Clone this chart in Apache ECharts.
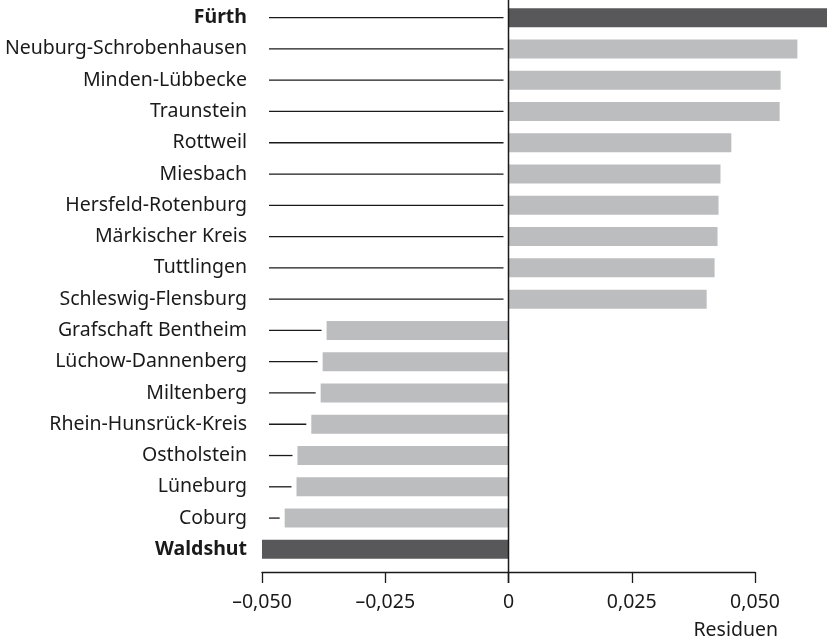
<!DOCTYPE html>
<html>
<head>
<meta charset="utf-8">
<script src="https://cdn.jsdelivr.net/npm/echarts@6/dist/echarts.min.js"></script>
<style>
    html, body { margin: 0; padding: 0; background: #fff; }
    #chart { width: 827px; height: 641px; }
</style>
</head>
<body>
<div id="chart"></div>
<script>
// Landkreise, von oben nach unten
const districts = [
    'Fürth', 'Neuburg-Schrobenhausen', 'Minden-Lübbecke', 'Traunstein', 'Rottweil',
    'Miesbach', 'Hersfeld-Rotenburg', 'Märkischer Kreis', 'Tuttlingen', 'Schleswig-Flensburg',
    'Grafschaft Bentheim', 'Lüchow-Dannenberg', 'Miltenberg', 'Rhein-Hunsrück-Kreis',
    'Ostholstein', 'Lüneburg', 'Coburg', 'Waldshut'
];

// Residuen (Fürth läuft über den Rand hinaus)
const residuals = [
    0.068, 0.0586, 0.0552, 0.0550, 0.0452,
    0.0430, 0.0426, 0.0424, 0.0418, 0.0402,
    -0.0369, -0.0377, -0.0381, -0.0400,
    -0.0428, -0.0430, -0.0454, -0.0500
];

// hervorgehobene Extremwerte
const highlighted = ['Fürth', 'Waldshut'];

const xTicks = { min: -0.05, max: 0.05, interval: 0.025 };

const FONT = 'Noto Sans';
const FONT_SIZE = 19.5;
const TEXT_COLOR = '#1a1a1a';
const DARK = '#58585a';
const LIGHT = '#bcbdbf';

// Zahl im deutschen Format, Minus als Halbgeviertstrich
function formatTick(value) {
    if (Math.abs(value) < 1e-9) {
        return '0';
    }
    return value.toFixed(3).replace('.', ',').replace('-', '\u2013');
}

const chart = echarts.init(document.getElementById('chart'), null, { renderer: 'canvas' });

const option = {
    animation: false,
    textStyle: { fontFamily: FONT, color: TEXT_COLOR },
    title: {
        text: 'Residuen',
        right: 49,
        top: 620,
        padding: 0,
        textStyle: { fontFamily: FONT, fontSize: FONT_SIZE, fontWeight: 'normal', color: TEXT_COLOR }
    },
    grid: {
        left: 262,
        right: 72,
        top: 2,
        bottom: 76
    },
    xAxis: {
        type: 'value',
        min: xTicks.min,
        max: xTicks.max,
        interval: xTicks.interval,
        offset: 7,
        axisLine: { show: true, onZero: false, lineStyle: { color: TEXT_COLOR, width: 1.3 } },
        axisTick: { show: true, length: 11, lineStyle: { color: TEXT_COLOR, width: 1.3 } },
        splitLine: { show: false },
        axisLabel: {
            margin: 20,
            fontSize: FONT_SIZE,
            fontFamily: FONT,
            color: TEXT_COLOR,
            formatter: formatTick
        }
    },
    yAxis: {
        type: 'category',
        data: districts,
        inverse: true,
        axisLine: { show: false, onZero: false },
        axisTick: { show: false },
        splitLine: { show: false },
        axisLabel: {
            margin: 15,
            fontSize: FONT_SIZE,
            fontFamily: FONT,
            color: TEXT_COLOR,
            formatter: function (name) {
                return highlighted.indexOf(name) >= 0 ? '{b|' + name + '}' : name;
            },
            rich: {
                b: { fontWeight: 'bold', fontSize: FONT_SIZE, fontFamily: FONT, color: TEXT_COLOR }
            }
        }
    },
    series: [
        {
            type: 'bar',
            barWidth: 19,
            clip: false,
            z: 2,
            data: residuals.map(function (v, i) {
                return {
                    value: v,
                    itemStyle: { color: highlighted.indexOf(districts[i]) >= 0 ? DARK : LIGHT }
                };
            })
        },
        {
            // Führungslinien vom Namen bis zum Balken
            type: 'custom',
            z: 3,
            encode: { x: 0, y: 1 },
            data: districts.map(function (d, i) {
                return [residuals[i], i];
            }),
            renderItem: function (params, api) {
                let v = api.value(0);
                let end = api.coord([Math.min(v, 0), api.value(1)]);
                let x0 = params.coordSys.x + 7;
                let x1 = end[0] - 5;
                if (x1 <= x0) {
                    return null;
                }
                return {
                    type: 'line',
                    shape: { x1: x0, y1: end[1], x2: x1, y2: end[1] },
                    style: { stroke: TEXT_COLOR, lineWidth: 1.3 }
                };
            }
        }
    ]
};

chart.setOption(option);

// Nulllinie über die ganze Höhe bis unter die Achse
const zeroX = chart.convertToPixel({ xAxisIndex: 0 }, 0);
const axisY = chart.convertToPixel({ yAxisIndex: 0 }, districts.length - 1) + 15.6 + 7;
chart.setOption({
    graphic: [{
        type: 'line',
        z: 10,
        shape: { x1: zeroX, y1: 0, x2: zeroX, y2: axisY + 11 },
        style: { stroke: TEXT_COLOR, lineWidth: 1.5 }
    }]
});
</script>
</body>
</html>
